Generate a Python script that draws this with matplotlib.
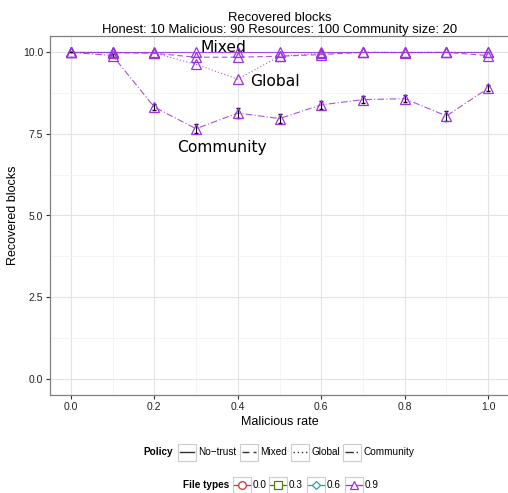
import matplotlib
matplotlib.use("Agg")
import matplotlib.pyplot as plt
import numpy as np
from matplotlib.patches import Rectangle
from matplotlib.lines import Line2D

plt.rcParams["font.family"] = ["Liberation Sans", "DejaVu Sans"]

# data (file type 0.9)
rates = [0.0, 0.1, 0.2, 0.3, 0.4, 0.5, 0.6, 0.7, 0.8, 0.9, 1.0]
no_trust = [10, 10, 10, 10, 10, 10, 10, 10, 10, 10, 10]
mixed = [10.0, 9.99, 9.97, 9.85, 9.85, 9.88, 9.93, 10.0, 9.99, 10.0, 9.9]
global_ = [10.0, 10.0, 9.98, 9.63, 9.18, 9.88, 9.97, 10.0, 10.0, 10.0, 10.0]
community = [10.0, 9.9, 8.32, 7.66, 8.14, 7.97, 8.39, 8.55, 8.58, 8.05, 8.9]
community_err = [0.0, 0.04, 0.1, 0.13, 0.14, 0.15, 0.12, 0.1, 0.11, 0.15, 0.1]

policies = ["No\u2212trust", "Mixed", "Global", "Community"]
styles = ["-", (0, (5, 3)), (0, (1, 2)), (0, (6, 2, 1, 2))]
file_types = ["0.0", "0.3", "0.6", "0.9"]
ft_colors = ["#CC3333", "#4D8000", "#2AA1A1", "#9933DD"]
ft_markers = ["o", "s", "D", "^"]

purple = ft_colors[3]

fig = plt.figure(figsize=(5.08, 4.93), dpi=100)
ax = fig.add_axes([50 / 508, 1 - 395 / 493, 459 / 508, 359 / 493])

series = [no_trust, mixed, global_, community]
for vals, ls in zip(series, styles):
    ax.plot(rates, vals, linestyle=ls, color=purple, lw=0.8, alpha=0.85, zorder=3)
ax.errorbar(rates, community, yerr=community_err, fmt="none", ecolor="black",
            elinewidth=0.8, capsize=1.2, zorder=4)
for vals in series:
    ax.plot(rates, vals, linestyle="none", marker="^", ms=7.5, mfc="none",
            mec=purple, mew=0.9, zorder=5)

ax.text(0.366, 10.16, "Mixed", ha="center", va="center", fontsize=11.2, family="DejaVu Sans")
ax.text(0.488, 9.12, "Global", ha="center", va="center", fontsize=11.2, family="DejaVu Sans")
ax.text(0.362, 7.07, "Community", ha="center", va="center", fontsize=11.2, family="DejaVu Sans")

ax.set_xlim(-0.05, 1.05)
ax.set_ylim(-0.5, 10.5)
ax.set_xticks(np.arange(0, 1.01, 0.2))
ax.set_xticklabels(["0.0", "0.2", "0.4", "0.6", "0.8", "1.0"])
ax.set_yticks([0, 2.5, 5, 7.5, 10])
ax.set_yticklabels(["0.0", "2.5", "5.0", "7.5", "10.0"])
ax.set_xticks(np.arange(0.1, 1.0, 0.2), minor=True)
ax.set_yticks([1.25, 3.75, 6.25, 8.75], minor=True)
ax.grid(which="major", color="#E3E3E3", lw=0.8)
ax.grid(which="minor", color="#F3F3F3", lw=0.6)
ax.set_axisbelow(True)
ax.tick_params(which="major", labelsize=7.5, color="#333333", length=3, width=0.8,
               labelcolor="#222222", pad=2)
ax.tick_params(which="minor", length=0)
for sp in ax.spines.values():
    sp.set_color("#7F7F7F")
    sp.set_linewidth(0.9)
ax.set_xlabel("Malicious rate", fontsize=9, labelpad=3)
ax.set_ylabel("Recovered blocks", fontsize=9, labelpad=3)
ax.set_title("Recovered blocks\nHonest: 10 Malicious: 90 Resources: 100 Community size: 20",
             fontsize=9.4, linespacing=0.95, pad=2)

# legends drawn ggplot-style with boxed keys
lg = fig.add_axes([0, 0, 1, 1], zorder=10)
lg.set_xlim(0, 508)
lg.set_ylim(493, 0)
lg.axis("off")


def key_box(x, y):
    lg.add_patch(Rectangle((x, y - 8.5), 17.5, 17, fill=False, ec="#CCCCCC", lw=0.8))


y1 = 452
lg.text(173, y1, "Policy", fontsize=7.2, fontweight="bold", ha="right", va="center")
pol_x = [178, 240, 291, 343]
for x, name, ls in zip(pol_x, policies, styles):
    key_box(x, y1)
    lg.add_line(Line2D([x + 2, x + 15.5], [y1, y1], color="#333333", lw=1.0, linestyle=ls))
    lg.text(x + 20, y1, name, fontsize=7.2, va="center", ha="left")

y2 = 485
lg.text(229, y2, "File types", fontsize=7.2, fontweight="bold", ha="right", va="center")
ft_x = [233, 269, 307, 345]
for x, name, c, m in zip(ft_x, file_types, ft_colors, ft_markers):
    key_box(x, y2)
    lg.add_line(Line2D([x + 1, x + 16.5], [y2, y2], color=c, lw=0.9))
    lg.plot([x + 8.75], [y2], marker=m, ms=5.5 if m != "D" else 4.5, mfc="white",
            mec=c, mew=0.9, linestyle="none")
    lg.text(x + 20, y2, name, fontsize=7.2, va="center", ha="left")

fig.savefig("out.png", dpi=100)
